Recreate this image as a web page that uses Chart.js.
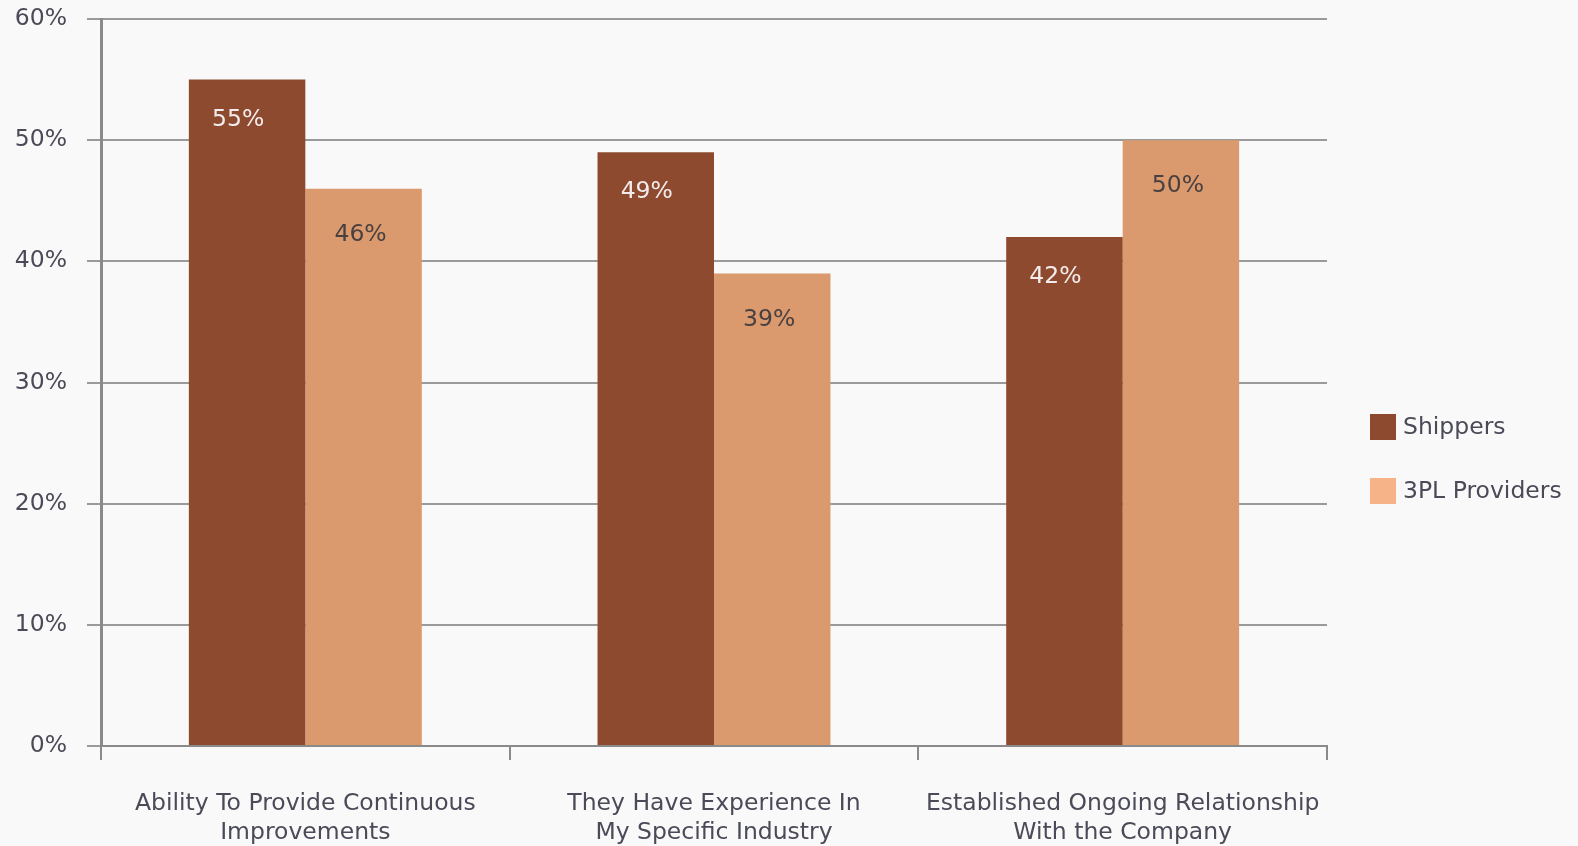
<!DOCTYPE html>
<html>
<head>
<meta charset="utf-8">
<script src="https://cdn.jsdelivr.net/npm/chart.js@4.4.1/dist/chart.umd.min.js"></script>
<style>
  html, body { margin: 0; padding: 0; background: #f9f9f9; }
  #wrap { position: relative; width: 1578px; height: 846px; }
</style>
</head>
<body>
<div id="wrap"><canvas id="c" width="1578" height="846"></canvas></div>
<script>
const categories = [
  ["Ability To Provide Continuous", "Improvements"],
  ["They Have Experience In", "My Specific Industry"],
  ["Established Ongoing Relationship", "With the Company"]
];
const seriesNames = ["Shippers", "3PL Providers"];
const shippers = [55, 49, 42];
const providers = [46, 39, 50];
const yTicks = [0, 10, 20, 30, 40, 50, 60];

const FONT = "'DejaVu Sans', sans-serif";
const FS = 23.5;
const TEXT = "#4a4a58";

const valueLabels = {
  id: 'valueLabels',
  afterDatasetsDraw(chart) {
    const ctx = chart.ctx;
    ctx.save();
    ctx.font = FS + "px " + FONT;
    ctx.textAlign = 'center';
    ctx.textBaseline = 'middle';
    chart.data.datasets.forEach((ds, di) => {
      const meta = chart.getDatasetMeta(di);
      meta.data.forEach((bar, i) => {
        const dx = di === 0 ? -9 : -3;
        const dy = di === 0 ? 40 : 46;
        ctx.fillStyle = di === 0 ? '#f3ecec' : '#4a4040';
        ctx.fillText(ds.data[i] + '%', bar.x + dx, bar.y + dy);
      });
    });
    ctx.restore();
  }
};

const sideLegend = {
  id: 'sideLegend',
  afterDraw(chart) {
    const ctx = chart.ctx;
    ctx.save();
    const boxColors = ['#8d4a2e', '#f5b387'];
    const x = 1370, y0 = 414, step = 64, box = 26;
    ctx.font = FS + "px " + FONT;
    ctx.textBaseline = 'middle';
    ctx.textAlign = 'left';
    chart.data.datasets.forEach((ds, i) => {
      const y = y0 + i * step;
      ctx.fillStyle = boxColors[i];
      ctx.fillRect(x, y, box, box);
      ctx.fillStyle = TEXT;
      ctx.fillText(ds.label, x + 33, y + box / 2 + 1);
    });
    ctx.restore();
  }
};

new Chart(document.getElementById('c'), {
  type: 'bar',
  data: {
    labels: categories,
    datasets: [
      { label: seriesNames[0], data: shippers, backgroundColor: '#8d4a2e', categoryPercentage: 0.57, barPercentage: 1.0 },
      { label: seriesNames[1], data: providers, backgroundColor: '#da9a6e', categoryPercentage: 0.57, barPercentage: 1.0 }
    ]
  },
  options: {
    responsive: false,
    animation: false,
    layout: { padding: { top: 19, right: 251, left: 0, bottom: 0 } },
    plugins: { legend: { display: false }, tooltip: { enabled: false } },
    scales: {
      y: {
        min: 0, max: 60,
        afterBuildTicks(scale) { scale.ticks = yTicks.map(v => ({ value: v })); },
        afterFit(scale) { scale.width = 101; scale.paddingTop = 0; scale.paddingBottom = 0; },
        ticks: {
          padding: 20,
          color: TEXT,
          font: { family: FONT, size: FS },
          callback: v => v + '%'
        },
        grid: { color: '#9a9a9a', lineWidth: 2, tickLength: 14, drawTicks: true },
        border: { color: '#8a8a8a', width: 3 }
      },
      x: {
        afterFit(scale) { scale.height = 100; scale.paddingLeft = 0; scale.paddingRight = 0; },
        ticks: {
          padding: 29,
          color: TEXT,
          font: { family: FONT, size: FS, lineHeight: 1.25 },
          maxRotation: 0
        },
        grid: { drawOnChartArea: false, drawTicks: true, tickLength: 14, color: '#8a8a8a', lineWidth: 2, offset: true },
        border: { color: '#8a8a8a', width: 2 }
      }
    }
  },
  plugins: [valueLabels, sideLegend]
});
</script>
</body>
</html>
